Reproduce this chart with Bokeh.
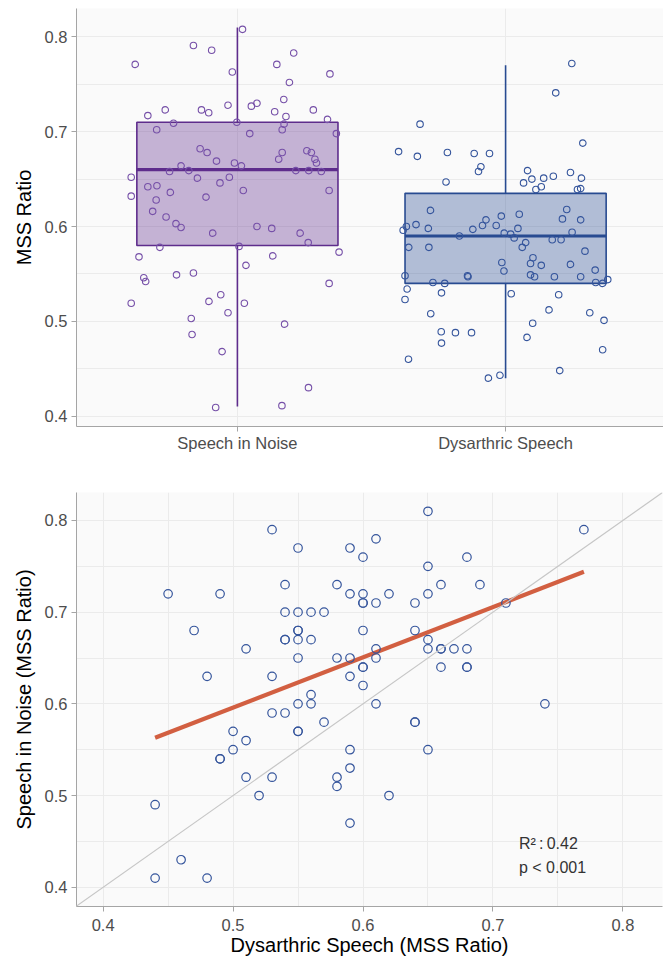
from bokeh.plotting import figure
from bokeh.layouts import column
from bokeh.models import ColumnDataSource, FixedTicker, Range1d, Label, Slope
from bokeh.transform import dodge
from bokeh.embed import file_html
from bokeh.resources import INLINE

# ---------------- data ----------------
groups = ["Speech in Noise", "Dysarthric Speech"]
group_pos = [1, 2]
box_q1 = [0.58, 0.54]
box_med = [0.66, 0.59]
box_q3 = [0.71, 0.635]
whisk_lo = [0.41, 0.44]
whisk_hi = [0.81, 0.77]

# jittered points of the top panel (offset from group centre, value)
sin_jit_x = [0.019, -0.164, -0.096, 0.210, -0.381, 0.147, 0.345, -0.019, 0.194, 0.173,
             -0.035, 0.052, 0.073, 0.139, 0.283, -0.269, -0.134, -0.107, -0.334, 0.181,
             -0.238, -0.002, 0.336, 0.174, 0.167, -0.301, 0.046, 0.369, -0.139, -0.113,
             -0.078, -0.011, 0.015, 0.167, 0.154, 0.259, 0.276, 0.289, 0.295, -0.210,
             -0.181, -0.253, 0.218, 0.266, 0.313, -0.396, -0.149, -0.030, -0.065, -0.334,
             -0.300, 0.022, -0.250, -0.396, -0.117, 0.342, -0.303, -0.316, -0.266, -0.229,
             -0.210, 0.073, 0.128, -0.092, 0.234, 0.264, 0.006, -0.289, 0.379, -0.367,
             0.132, 0.032, -0.349, -0.342, -0.227, -0.164, 0.342, -0.396, -0.106, -0.062,
             0.026, -0.035, -0.172, -0.169, 0.176, -0.057, 0.265, 0.166, -0.081]
sin_jit_y = [0.808, 0.791, 0.786, 0.783, 0.771, 0.771, 0.761, 0.763, 0.752, 0.734,
             0.728, 0.727, 0.730, 0.721, 0.723, 0.723, 0.723, 0.720, 0.717, 0.716,
             0.709, 0.710, 0.713, 0.708, 0.702, 0.702, 0.698, 0.698, 0.682, 0.678,
             0.669, 0.667, 0.664, 0.678, 0.671, 0.680, 0.678, 0.671, 0.667, 0.664,
             0.659, 0.658, 0.659, 0.659, 0.658, 0.652, 0.651, 0.652, 0.646, 0.642,
             0.643, 0.638, 0.636, 0.632, 0.631, 0.638, 0.628, 0.616, 0.610, 0.603,
             0.599, 0.600, 0.598, 0.593, 0.593, 0.583, 0.579, 0.578, 0.573, 0.568,
             0.569, 0.559, 0.546, 0.542, 0.549, 0.551, 0.540, 0.519, 0.521, 0.528,
             0.519, 0.509, 0.503, 0.486, 0.497, 0.468, 0.430, 0.411, 0.409]
ds_jit_x = [0.247, 0.187, -0.319, 0.288, -0.399, -0.329, -0.217, -0.117, -0.060, -0.092,
            -0.101, -0.222, 0.082, 0.098, 0.067, 0.142, 0.178, 0.242, 0.283, 0.113,
            0.133, 0.268, 0.280, -0.280, 0.228, -0.334, -0.370, -0.382, -0.288, -0.172,
            -0.122, -0.086, -0.073, -0.035, -0.016, 0.051, 0.046, -0.005, 0.019, 0.032,
            0.075, 0.062, 0.212, 0.280, 0.248, 0.174, 0.207, -0.361, -0.286, 0.296,
            -0.014, -0.006, 0.102, 0.093, 0.133, 0.242, 0.334, -0.375, -0.142, -0.140,
            0.093, 0.108, 0.182, 0.280, -0.271, -0.227, 0.336, 0.362, 0.381, -0.367,
            -0.375, -0.239, 0.021, 0.198, -0.279, 0.162, 0.314, 0.367, 0.101, -0.240,
            -0.187, -0.127, -0.239, 0.080, -0.362, 0.362, 0.202, -0.064, -0.021]
ds_jit_y = [0.772, 0.741, 0.708, 0.688, 0.679, 0.674, 0.678, 0.677, 0.677, 0.663,
            0.658, 0.647, 0.659, 0.650, 0.646, 0.651, 0.653, 0.657, 0.651, 0.639,
            0.642, 0.639, 0.640, 0.617, 0.618, 0.602, 0.600, 0.596, 0.598, 0.590,
            0.597, 0.601, 0.607, 0.601, 0.611, 0.613, 0.598, 0.593, 0.592, 0.588,
            0.583, 0.578, 0.608, 0.607, 0.594, 0.586, 0.586, 0.578, 0.578, 0.574,
            0.562, 0.553, 0.567, 0.561, 0.559, 0.560, 0.554, 0.548, 0.548, 0.547,
            0.549, 0.547, 0.547, 0.547, 0.541, 0.540, 0.541, 0.540, 0.544, 0.534,
            0.523, 0.530, 0.529, 0.528, 0.508, 0.512, 0.509, 0.501, 0.498, 0.489,
            0.488, 0.488, 0.477, 0.483, 0.460, 0.470, 0.448, 0.440, 0.443]

# paired values for the scatter panel
pair_dys = [0.53, 0.55, 0.45, 0.49, 0.54, 0.58, 0.54, 0.55, 0.56, 0.57,
            0.47, 0.55, 0.55, 0.54, 0.54, 0.55, 0.56, 0.51, 0.55, 0.58,
            0.48, 0.53, 0.56, 0.55, 0.56, 0.53, 0.54, 0.57, 0.50, 0.55,
            0.55, 0.51, 0.50, 0.49, 0.49, 0.51, 0.53, 0.58, 0.58, 0.52,
            0.44, 0.46, 0.44, 0.48, 0.65, 0.77, 0.59, 0.61, 0.60, 0.68,
            0.65, 0.66, 0.69, 0.59, 0.60, 0.62, 0.65, 0.60, 0.60, 0.61,
            0.64, 0.71, 0.60, 0.64, 0.65, 0.61, 0.65, 0.66, 0.66, 0.67,
            0.68, 0.59, 0.61, 0.60, 0.60, 0.66, 0.68, 0.68, 0.59, 0.60,
            0.61, 0.74, 0.64, 0.64, 0.59, 0.65, 0.59, 0.62, 0.59]
pair_noise = [0.79, 0.77, 0.72, 0.72, 0.73, 0.73, 0.70, 0.70, 0.70, 0.70,
              0.68, 0.68, 0.68, 0.67, 0.67, 0.67, 0.67, 0.66, 0.65, 0.65,
              0.63, 0.63, 0.61, 0.60, 0.60, 0.59, 0.59, 0.58, 0.57, 0.57,
              0.57, 0.56, 0.55, 0.54, 0.54, 0.52, 0.52, 0.52, 0.51, 0.50,
              0.49, 0.43, 0.41, 0.41, 0.81, 0.79, 0.77, 0.78, 0.76, 0.76,
              0.75, 0.73, 0.73, 0.72, 0.72, 0.72, 0.72, 0.71, 0.71, 0.71,
              0.71, 0.71, 0.68, 0.68, 0.67, 0.66, 0.66, 0.66, 0.66, 0.66,
              0.66, 0.65, 0.65, 0.64, 0.64, 0.64, 0.64, 0.64, 0.63, 0.62,
              0.60, 0.60, 0.58, 0.58, 0.55, 0.55, 0.53, 0.50, 0.47]

fit_x = [0.44, 0.77]
fit_y = [0.563, 0.744]
r2_text = "R\u00b2\u2009:\u20090.42"
p_text = "p < 0.001"

y_ticks = [0.4, 0.5, 0.6, 0.7, 0.8]
y_minor = [0.45, 0.55, 0.65, 0.75]

# ---------------- style ----------------
FONT = "Liberation Sans"
group_line = ["#5E2C8C", "#284B91"]
group_point = ["#7650A8", "#35559C"]
PANEL = "#FAFAFA"
GRID = "#EBEBEB"
AXIS = "#A5A5A5"


def style(p):
    p.background_fill_color = PANEL
    p.border_fill_color = "white"
    p.outline_line_color = None
    for ax in p.axis:
        ax.axis_line_color = AXIS
        ax.major_tick_line_color = AXIS
        ax.major_tick_out = 5
        ax.major_tick_in = 0
        ax.minor_tick_line_color = None
        ax.major_label_text_font = FONT
        ax.major_label_text_font_size = "16.5px"
        ax.major_label_text_color = "#4D4D4D"
        ax.major_label_standoff = 4
        ax.axis_label_text_font = FONT
        ax.axis_label_text_font_size = "20px"
        ax.axis_label_text_font_style = "normal"
        ax.axis_label_text_color = "black"
        ax.axis_label_standoff = 7
    for g in p.grid:
        g.grid_line_color = GRID
        g.grid_line_width = 1


# ---------------- top: box plot ----------------
p1 = figure(frame_width=590, frame_height=418, min_border_left=72, min_border_right=1,
            min_border_top=8, min_border_bottom=29,
            x_range=Range1d(0.4, 2.6), y_range=Range1d(0.389, 0.830),
            output_backend="svg", toolbar_location=None, y_axis_label="MSS Ratio")
style(p1)
p1.xaxis.ticker = FixedTicker(ticks=group_pos)
p1.xaxis.major_label_overrides = {gp: g for gp, g in zip(group_pos, groups)}
p1.xaxis.major_label_standoff = 2
p1.yaxis.ticker = FixedTicker(ticks=y_ticks, minor_ticks=y_minor)
p1.ygrid.minor_grid_line_color = GRID
p1.ygrid.minor_grid_line_width = 1

box_src = ColumnDataSource(dict(x=group_pos, q1=box_q1, med=box_med, q3=box_q3,
                                lo=whisk_lo, hi=whisk_hi, line=group_line))
p1.segment(x0="x", y0="q3", x1="x", y1="hi", source=box_src, line_color="line", line_width=1.6)
p1.segment(x0="x", y0="lo", x1="x", y1="q1", source=box_src, line_color="line", line_width=1.6)
p1.vbar(x="x", width=0.75, bottom="q1", top="q3", source=box_src,
        fill_color="line", fill_alpha=0.35, line_color="line", line_width=1.6)
p1.segment(x0=dodge("x", -0.375), x1=dodge("x", 0.375), y0="med", y1="med",
           source=box_src, line_color="line", line_width=3.2)

for gp, jx, jy, col in [(group_pos[0], sin_jit_x, sin_jit_y, group_point[0]),
                        (group_pos[1], ds_jit_x, ds_jit_y, group_point[1])]:
    p1.scatter([gp + v for v in jx], jy, marker="circle", size=6.5, fill_color=None,
               line_color=col, line_width=1.1)

# ---------------- bottom: scatter ----------------
p2 = figure(frame_width=586, frame_height=414, min_border_left=76, min_border_right=1,
            min_border_top=37, min_border_bottom=40,
            x_range=Range1d(0.3795, 0.8305), y_range=Range1d(0.379, 0.8305),
            output_backend="svg", toolbar_location=None,
            x_axis_label="Dysarthric Speech (MSS Ratio)",
            y_axis_label="Speech in Noise (MSS Ratio)")
style(p2)
p2.xaxis.ticker = FixedTicker(ticks=y_ticks, minor_ticks=y_minor)
p2.yaxis.ticker = FixedTicker(ticks=y_ticks, minor_ticks=y_minor)
p2.xaxis.major_label_standoff = 7
p2.xaxis.axis_label_standoff = 0
for g in p2.grid:
    g.minor_grid_line_color = GRID
    g.minor_grid_line_width = 1

p2.add_layout(Slope(gradient=1, y_intercept=0, line_color="#C6C6C6", line_width=1.2))
p2.line(fit_x, fit_y, line_color="#D25F41", line_width=4.2)
p2.scatter(pair_dys, pair_noise, marker="circle", size=8.5, fill_color=None,
           line_color="#35559C", line_width=1.2)

for txt, yy in [(r2_text, 0.448), (p_text, 0.421)]:
    p2.add_layout(Label(x=0.72, y=yy, text=txt, text_align="left", text_baseline="middle",
                        text_font=FONT, text_font_size="16px", text_color="#333333"))

layout = column(p1, p2)
open("out.html", "w").write(file_html(layout, INLINE))
